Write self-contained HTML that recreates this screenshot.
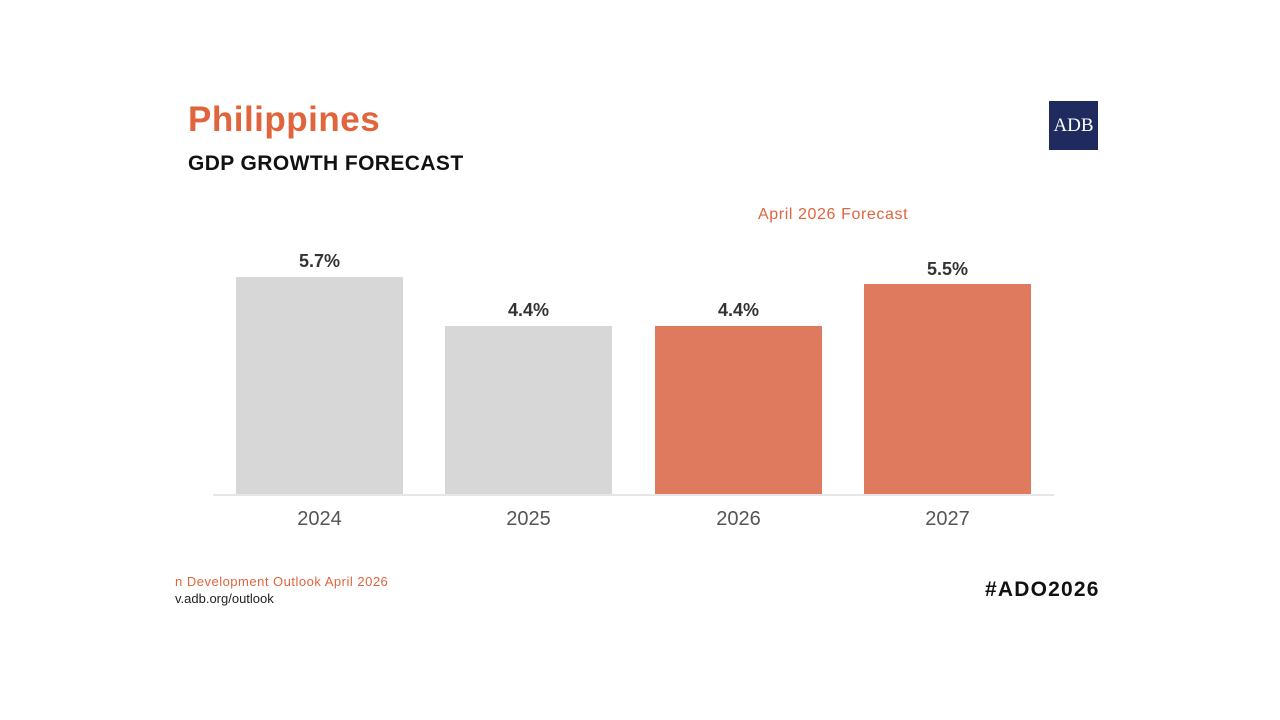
<!DOCTYPE html>
<html><head><meta charset="utf-8"><style>
body{margin:0;width:1280px;height:720px;background:#fff;position:relative;overflow:hidden;font-family:"Liberation Sans",sans-serif}
.a{position:absolute;white-space:nowrap}
.bar{position:absolute;width:167px}
.v{position:absolute;width:167px;text-align:center;font-weight:bold;font-size:18px;color:#333}
.y{position:absolute;width:167px;text-align:center;font-size:20px;color:#555;top:508px}
</style></head><body>
<div class="a" style="left:188px;top:100px;font-size:35px;font-weight:bold;color:#e0643c;letter-spacing:0.5px">Philippines</div>
<div class="a" style="left:188px;top:152px;font-size:21px;font-weight:bold;color:#111;letter-spacing:0.4px">GDP GROWTH FORECAST</div>
<div class="a" style="left:1049px;top:101px;width:49px;height:49px;background:#1f2b5e;color:#fff;font-family:'Liberation Serif',serif;font-size:19px;line-height:49px;text-align:center">ADB</div>
<div class="a" style="left:758px;top:206px;font-size:16px;color:#e0643c;letter-spacing:0.6px">April 2026 Forecast</div>
<div class="bar" style="left:236px;top:277px;height:217px;background:#d7d7d7"></div>
<div class="bar" style="left:445px;top:326px;height:168px;background:#d7d7d7"></div>
<div class="bar" style="left:655px;top:326px;height:168px;background:#e07a5f"></div>
<div class="bar" style="left:864px;top:284px;height:210px;background:#e07a5f"></div>
<div class="a" style="left:213px;top:494px;width:841px;height:2px;background:#e6e6e6"></div>
<div class="v" style="left:236px;top:251px">5.7%</div>
<div class="v" style="left:445px;top:300px">4.4%</div>
<div class="v" style="left:655px;top:300px">4.4%</div>
<div class="v" style="left:864px;top:259px">5.5%</div>
<div class="y" style="left:236px">2024</div>
<div class="y" style="left:445px">2025</div>
<div class="y" style="left:655px">2026</div>
<div class="y" style="left:864px">2027</div>
<div class="a" style="left:175px;top:574px;font-size:13px;color:#e0643c;letter-spacing:0.5px">n Development Outlook April 2026</div>
<div class="a" style="left:175px;top:591px;font-size:13px;color:#222">v.adb.org/outlook</div>
<div class="a" style="left:985px;top:578px;font-size:21px;font-weight:bold;color:#111;letter-spacing:1.2px">#ADO2026</div>
</body></html>
